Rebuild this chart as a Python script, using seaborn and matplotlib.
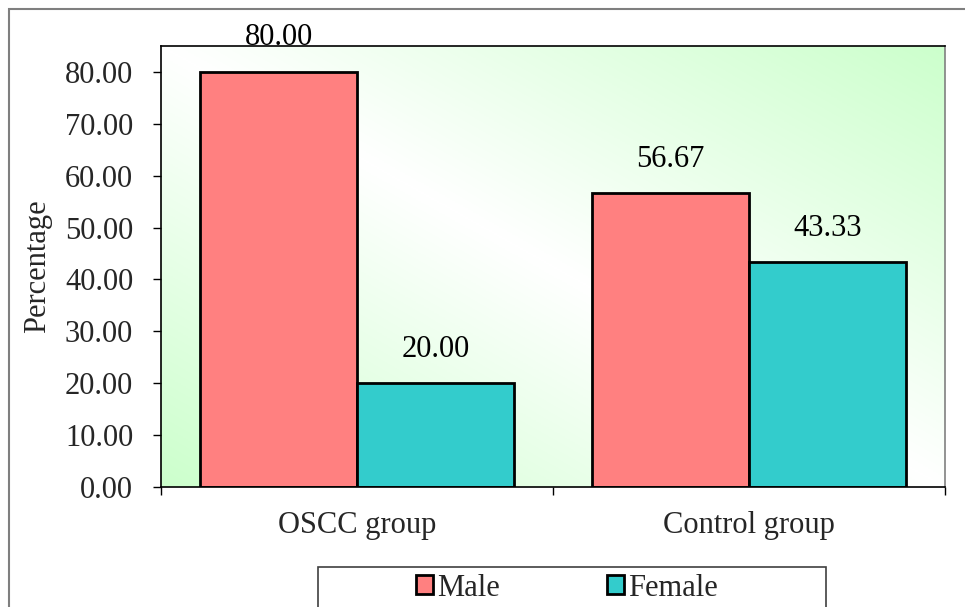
import numpy as np
import pandas as pd
import matplotlib
matplotlib.use("Agg")
import matplotlib.pyplot as plt
from matplotlib.patches import Rectangle
from matplotlib.colors import LinearSegmentedColormap
import seaborn as sns

groups = ["OSCC group", "Control group"]
sexes = ["Male", "Female"]
male_pct = [80.00, 56.67]
female_pct = [20.00, 43.33]
y_ticks = [0, 10, 20, 30, 40, 50, 60, 70, 80]
colors = ["#FF8080", "#33CCCC"]

df = pd.DataFrame({
    "group": groups * 2,
    "sex": [sexes[0]] * len(groups) + [sexes[1]] * len(groups),
    "pct": male_pct + female_pct,
})

sns.set_theme(style="white")
plt.rcParams["font.family"] = ["Liberation Serif", "DejaVu Serif"]
FS = 22

W, H = 965, 607
fig = plt.figure(figsize=(W / 100, H / 100), dpi=100)
fig.patch.set_facecolor("white")

# outer frame of the chart object
fig.add_artist(Rectangle((9 / W, -0.2), 1.2, 1.2 - 9 / H,
                         transform=fig.transFigure, fill=False,
                         edgecolor="#7f7f7f", linewidth=1.5))

ax = fig.add_axes([161 / W, 1 - 487 / H, (945 - 161) / W, (487 - 46) / H])

sns.barplot(data=df, x="group", y="pct", hue="sex", order=groups,
            hue_order=sexes, palette=colors, edgecolor="black",
            linewidth=2, width=0.8, saturation=1, ax=ax, zorder=2)

# diagonal two-tone plot-area fill
n = 300
u = np.linspace(0, 1, n)
X, Y = np.meshgrid(u, u)
grad = np.abs(X + Y - 1)
cmap = LinearSegmentedColormap.from_list("pa", ["#FFFFFF", "#CCFFCC"])
ax.imshow(grad, extent=[0, 1, 0, 1], transform=ax.transAxes, origin="lower",
          cmap=cmap, aspect="auto", zorder=0, interpolation="bilinear")

ax.set_xlim(-0.5, 1.5)
ax.set_ylim(0, 85)
ax.set_yticks(y_ticks)
ax.set_yticklabels([f"{v:.2f}" for v in y_ticks], fontsize=FS)
ax.set_xticks([0, 1])
ax.set_xticklabels(groups, fontsize=FS)
ax.set_xticks([-0.5, 0.5, 1.5], minor=True)
ax.tick_params(axis="x", which="major", length=0, pad=17)
ax.tick_params(axis="x", which="minor", length=6, width=1, color="black",
               direction="out", bottom=True)
ax.tick_params(axis="y", length=6, width=1, color="black", direction="out",
               left=True, pad=14)
ax.set_xlabel("")
ax.set_ylabel("Percentage", fontsize=FS, labelpad=9)

for side in ["left", "bottom", "top"]:
    ax.spines[side].set_color("black")
    ax.spines[side].set_linewidth(1.2)
ax.spines["right"].set_color("#808080")
ax.spines["right"].set_linewidth(1.2)

for cont in ax.containers:
    ax.bar_label(cont, fmt="%.2f", padding=14, fontsize=FS, color="black")

handles, labels = ax.get_legend_handles_labels()
if ax.get_legend() is not None:
    ax.get_legend().remove()
fig.legend(handles, labels, loc="center", bbox_to_anchor=(567 / W, 1 - 588 / H),
           ncol=2, frameon=False, fontsize=FS, handlelength=0.55,
           handleheight=0.55, handletextpad=0.15, columnspacing=3.5)
fig.add_artist(Rectangle((318 / W, -0.1), (826 - 318) / W, (607 - 567) / H + 0.1,
                         transform=fig.transFigure, fill=False,
                         edgecolor="#404040", linewidth=1.2))

fig.savefig("out.png", dpi=100)
